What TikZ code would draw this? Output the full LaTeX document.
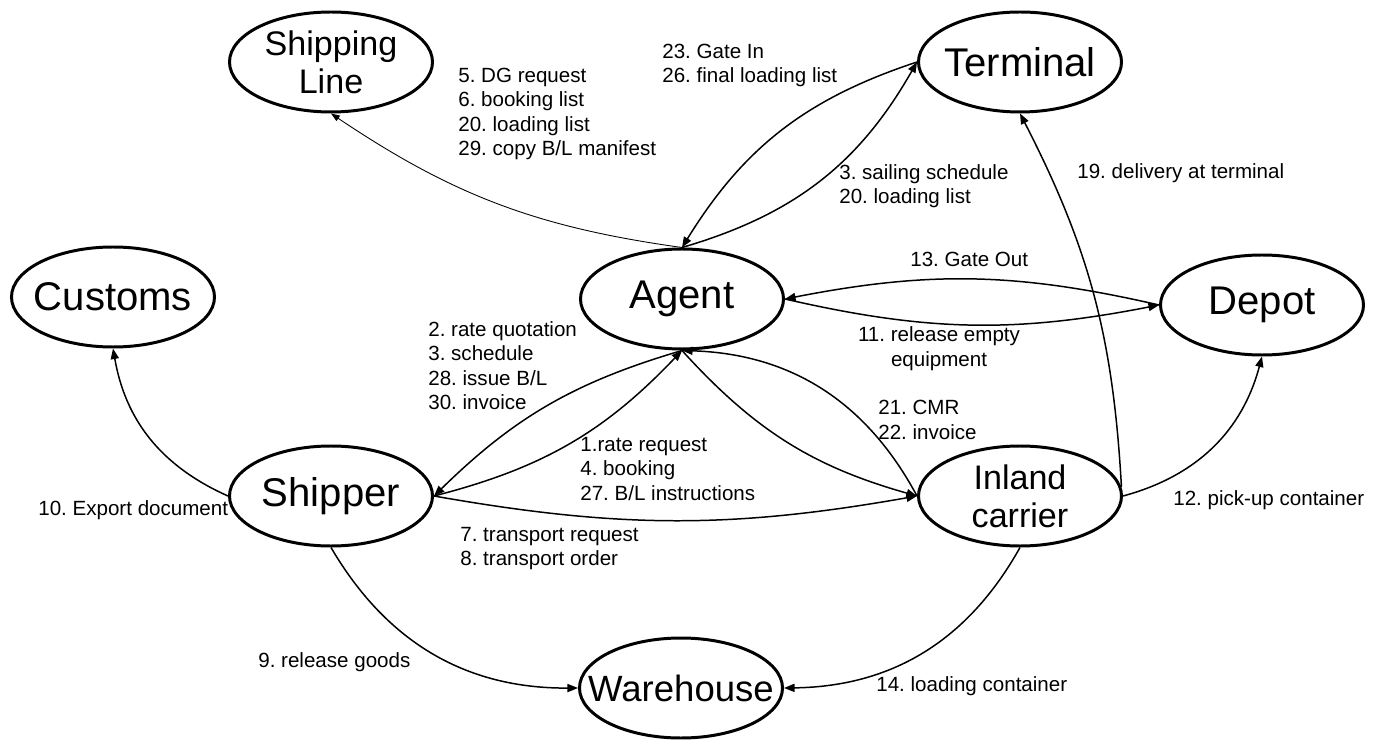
\documentclass[tikz,border=0pt]{standalone}
\usepackage{fontspec}
\setmainfont{Liberation Sans}
\usetikzlibrary{positioning,arrows.meta,shapes.geometric}
\frenchspacing

\begin{document}
\begin{tikzpicture}[
      x=1cm, y=1cm,
      party/.style={draw, ellipse, line width=1.7pt, minimum width=4.06cm, minimum height=2.0cm, inner xsep=-0.6cm, inner ysep=-0.2cm, align=center, font=\fontsize{22.8}{21.6}\selectfont},
      twoline/.style={font=\fontsize{19.4}{21.6}\selectfont},
      msg/.style={anchor=west, align=left, inner sep=0pt, font=\fontsize{11.7}{13.9}\selectfont},
      arr/.style={-{Triangle[length=6pt, width=4.6pt]}, line width=0.85pt},
      thinarr/.style={-{Triangle[length=5pt, width=3.6pt]}, line width=0.5pt}
  ]
    \useasboundingbox (0,0) rectangle (27.48,14.8);
    \node[party, twoline] (shipline) at (6.62,13.56) {Shipping\\Line};
    \node[party] (terminal) at (20.40,13.56) {Terminal};
    \node[party] (customs) at (2.26,8.86) {Customs};
    \node[party] (agent) at (13.64,8.82) {Agent};
    \node[party] (depot) at (25.24,8.70) {Depot};
    \node[party] (shipper) at (6.62,4.88) {Shipper};
    \node[party, twoline] (inland) at (20.40,4.88) {Inland\\carrier};
    \node[party, font=\fontsize{20.8}{21.6}\selectfont] (warehouse) at (13.62,1.04) {Warehouse};
    % agent to the sea side
    \draw[thinarr] (agent.north) to[bend left=13] (shipline.south);
    \draw[arr] (terminal.west) to[bend right=20] (agent.north);
    \draw[arr] (agent.north) to[bend right=22] (terminal.west);
    \draw[arr] (depot.west) to[bend right=12] (agent.east);
    \draw[arr] (agent.east) to[bend right=12] (depot.west);
    % shipper and carrier
    \draw[arr] (agent.south) to[bend right=14] (shipper.east);
    \draw[arr] (shipper.east) to[bend right=16] (agent.south);
    \draw[arr] (inland.west) to[bend right=30] (agent.south);
    \draw[arr] (agent.south) to[bend right=16] (inland.west);
    \draw[arr] (shipper.east) to[bend right=10] (inland.west);
    \draw[arr] (shipper.west) to[bend left=28] (customs.south);
    \draw[arr] (shipper.south) to[bend right=30] (warehouse.west);
    \draw[arr] (inland.south) to[bend left=30] (warehouse.east);
    \draw[arr] (inland.east) to[bend right=30] (depot.south);
    \draw[arr] (inland.5) to[bend right=12] (terminal.south);
    % messages
    \node[msg] (m1) at (9.16,12.52) {5. DG request\\6. booking list\\20. loading list\\29. copy B/L manifest};
    \node[msg] (m2) at (13.24,13.49) {23. Gate In\\26. final loading list};
    \node[msg] (m3) at (16.78,11.08) {3. sailing schedule\\20. loading list};
    \node[msg] (m4) at (21.54,11.34) {19. delivery at terminal};
    \node[msg] (m5) at (18.20,9.62) {13. Gate Out};
    \node[msg, anchor=center, align=center] (m6) at (18.78,7.83) {11. release empty\\equipment};
    \node[msg] (m7) at (17.56,6.40) {21. CMR\\22. invoice};
    \node[msg] (m8) at (23.46,4.80) {12. pick-up container};
    \node[msg] (m9) at (8.56,7.49) {2. rate quotation\\3. schedule\\28. issue B/L\\30. invoice};
    \node[msg] (m10) at (11.60,5.42) {1.rate request\\4. booking\\27. B/L instructions};
    \node[msg] (m11) at (9.20,3.83) {7. transport request\\8. transport order};
    \node[msg] (m12) at (5.16,1.56) {9. release goods};
    \node[msg] (m13) at (0.76,4.60) {10. Export document};
    \node[msg] (m14) at (17.52,1.08) {14. loading container};
  \end{tikzpicture}
\end{document}
